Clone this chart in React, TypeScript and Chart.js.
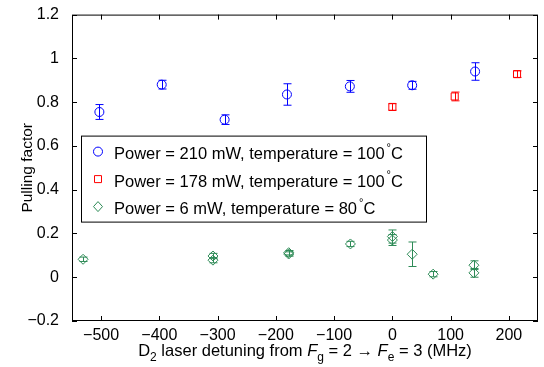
import React, { useEffect, useRef } from 'react';
import { Chart, registerables } from 'chart.js';

Chart.register(...registerables);

const FONT = '"Liberation Sans", Arial, Helvetica, sans-serif';

// Axis ranges and tick values
const xMin = -550;
const xMax = 250;
const xTicks = [-500, -400, -300, -200, -100, 0, 100, 200];
const yMin = -0.2;
const yMax = 1.2;
const yTicks = [-0.2, 0, 0.2, 0.4, 0.6, 0.8, 1, 1.2];

// Power = 210 mW, temperature = 100 °C
const blueX = [-503, -396, -288, -181, -73, 34, 142];
const blueY = [0.755, 0.88, 0.72, 0.835, 0.872, 0.877, 0.94];
const blueErr = [0.034, 0.02, 0.022, 0.049, 0.027, 0.018, 0.04];

// Power = 178 mW, temperature = 100 °C
const redX = [0, 107, 214];
const redY = [0.778, 0.826, 0.928];
const redErr = [0.015, 0.02, 0.015];

// Power = 6 mW, temperature = 80 °C
const greenX = [-531, -308, -308, -178, -178, -72, 0, 0, 34, 70, 140, 140];
const greenY = [0.082, 0.097, 0.078, 0.112, 0.106, 0.152, 0.186, 0.17, 0.105, 0.014, 0.055, 0.02];
const greenErr = [0.01, 0.012, 0.012, 0.01, 0.01, 0.012, 0.03, 0.025, 0.056, 0.012, 0.02, 0.02];

const legendLabels = [
  'Power = 210 mW, temperature = 100',
  'Power = 178 mW, temperature = 100',
  'Power = 6 mW, temperature = 80',
];

const BLUE = '#0000ff';
const RED = '#ff0000';
const GREEN = '#2e8b57';

const toPts = (xs: number[], ys: number[]) => xs.map((x, i) => ({ x, y: ys[i] }));
const fmt = (v: number | string) => String(v).replace('-', '\u2212');

function drawMarker(ctx: CanvasRenderingContext2D, style: string, x: number, y: number, color: string) {
  ctx.save();
  ctx.strokeStyle = color;
  ctx.lineWidth = 1;
  ctx.beginPath();
  if (style === 'circle') {
    ctx.arc(x, y, 4.5, 0, Math.PI * 2);
  } else if (style === 'rect') {
    ctx.rect(x - 3.5, y - 3.5, 7, 7);
  } else {
    ctx.moveTo(x, y - 5);
    ctx.lineTo(x + 4.5, y);
    ctx.lineTo(x, y + 5);
    ctx.lineTo(x - 4.5, y);
    ctx.closePath();
  }
  ctx.stroke();
  ctx.restore();
}

const decorPlugin = {
  id: 'decor',
  afterDatasetsDraw(chart: any) {
    const ctx: CanvasRenderingContext2D = chart.ctx;
    const ys = chart.scales.y;
    chart.data.datasets.forEach((ds: any, i: number) => {
      const meta = chart.getDatasetMeta(i);
      ctx.save();
      ctx.strokeStyle = ds.borderColor;
      ctx.lineWidth = 1;
      meta.data.forEach((pt: any, j: number) => {
        const v = ds.data[j].y;
        const e = ds.errors[j];
        const px = Math.round(pt.x) + 0.5;
        const t = ys.getPixelForValue(v + e);
        const b = ys.getPixelForValue(v - e);
        ctx.beginPath();
        ctx.moveTo(px, t);
        ctx.lineTo(px, b);
        ctx.moveTo(px - 4, t);
        ctx.lineTo(px + 4, t);
        ctx.moveTo(px - 4, b);
        ctx.lineTo(px + 4, b);
        ctx.stroke();
      });
      ctx.restore();
    });
  },
  afterDraw(chart: any) {
    const ctx: CanvasRenderingContext2D = chart.ctx;
    const { left, right, top, bottom } = chart.chartArea;
    const xs = chart.scales.x;
    const ys = chart.scales.y;
    ctx.save();
    ctx.strokeStyle = '#000';
    ctx.lineWidth = 1;
    ctx.strokeRect(left + 0.5, top + 0.5, right - left - 1, bottom - top - 1);
    ctx.beginPath();
    xTicks.forEach((v) => {
      const px = Math.round(xs.getPixelForValue(v)) + 0.5;
      ctx.moveTo(px, bottom);
      ctx.lineTo(px, bottom - 5);
      ctx.moveTo(px, top);
      ctx.lineTo(px, top + 5);
    });
    yTicks.forEach((v) => {
      const py = Math.round(ys.getPixelForValue(v)) + 0.5;
      ctx.moveTo(left, py);
      ctx.lineTo(left + 5, py);
      ctx.moveTo(right, py);
      ctx.lineTo(right - 5, py);
    });
    ctx.stroke();

    // Legend
    const lx = left + 9;
    const ly = top + 121;
    ctx.fillStyle = '#fff';
    ctx.fillRect(lx, ly, 345, 86);
    ctx.strokeRect(lx + 0.5, ly + 0.5, 345, 86);
    const styles = ['circle', 'rect', 'diamond'];
    const colors = [BLUE, RED, GREEN];
    ctx.textBaseline = 'middle';
    ctx.fillStyle = '#000';
    legendLabels.forEach((lab, i) => {
      const cy = ly + 19 + i * 27.5;
      drawMarker(ctx, styles[i], lx + 17, cy - 3, colors[i]);
      ctx.font = `16.5px ${FONT}`;
      ctx.fillText(lab, lx + 33, cy);
      let w = ctx.measureText(lab).width;
      ctx.font = `11px ${FONT}`;
      ctx.fillText('\u00b0', lx + 33 + w + 2, cy - 7);
      w += 2 + ctx.measureText('\u00b0').width;
      ctx.font = `16.5px ${FONT}`;
      ctx.fillText('C', lx + 33 + w, cy);
    });

    // Y title
    ctx.save();
    ctx.translate(28, (top + bottom) / 2);
    ctx.rotate(-Math.PI / 2);
    ctx.textAlign = 'center';
    ctx.textBaseline = 'middle';
    ctx.font = `15.5px ${FONT}`;
    ctx.fillText('Pulling factor', 0, 0);
    ctx.restore();

    // X title with subscripts
    const parts: [string, string][] = [
      ['D', 'n'],
      ['2', 's'],
      [' laser detuning from ', 'n'],
      ['F', 'i'],
      ['g', 's'],
      [' = 2 \u2192 ', 'n'],
      ['F', 'i'],
      ['e', 's'],
      [' = 3 (MHz)', 'n'],
    ];
    const fontFor = (k: string) =>
      k === 's' ? `12px ${FONT}` : k === 'i' ? `italic 16.5px ${FONT}` : `16.5px ${FONT}`;
    ctx.textAlign = 'left';
    ctx.textBaseline = 'alphabetic';
    let total = 0;
    parts.forEach(([t, k]) => {
      ctx.font = fontFor(k);
      total += ctx.measureText(t).width;
    });
    let cx = (left + right) / 2 - total / 2;
    const base = 356;
    parts.forEach(([t, k]) => {
      ctx.font = fontFor(k);
      ctx.fillText(t, cx, k === 's' ? base + 5 : base);
      cx += ctx.measureText(t).width;
    });
    ctx.restore();
  },
};

export default function App() {
  const ref = useRef<HTMLCanvasElement>(null);
  useEffect(() => {
    document.body.style.margin = '0';
    if (!ref.current) return;
    const chart = new Chart(ref.current, {
      type: 'scatter',
      data: {
        datasets: [
          {
            label: legendLabels[0],
            data: toPts(blueX, blueY),
            errors: blueErr,
            borderColor: BLUE,
            backgroundColor: 'rgba(0,0,0,0)',
            pointStyle: 'circle',
            pointRadius: 4.5,
            pointBorderWidth: 1,
          } as any,
          {
            label: legendLabels[1],
            data: toPts(redX, redY),
            errors: redErr,
            borderColor: RED,
            backgroundColor: 'rgba(0,0,0,0)',
            pointStyle: 'rect',
            pointRadius: 5,
            pointBorderWidth: 1,
          } as any,
          {
            label: legendLabels[2],
            data: toPts(greenX, greenY),
            errors: greenErr,
            borderColor: GREEN,
            backgroundColor: 'rgba(0,0,0,0)',
            pointStyle: 'rectRot',
            pointRadius: 5,
            pointBorderWidth: 1,
          } as any,
        ],
      },
      options: {
        responsive: false,
        animation: false,
        layout: { padding: { top: 14, right: 3, left: 0, bottom: 0 } },
        plugins: { legend: { display: false }, tooltip: { enabled: false } },
        scales: {
          x: {
            type: 'linear',
            min: xMin,
            max: xMax,
            afterBuildTicks: (s: any) => {
              s.ticks = xTicks.map((v) => ({ value: v }));
            },
            afterFit: (s: any) => {
              s.height = 46;
            },
            grid: { display: false },
            border: { display: false },
            ticks: {
              padding: -3,
              color: '#000',
              font: { family: FONT, size: 16 },
              maxRotation: 0,
              callback: (v: any) => fmt(v),
            },
          },
          y: {
            type: 'linear',
            min: yMin,
            max: yMax,
            afterBuildTicks: (s: any) => {
              s.ticks = yTicks.map((v) => ({ value: v }));
            },
            afterFit: (s: any) => {
              s.width = 72;
            },
            grid: { display: false },
            border: { display: false },
            ticks: {
              padding: 5,
              color: '#000',
              font: { family: FONT, size: 16 },
              callback: (v: any) => fmt(Math.round(Number(v) * 10) / 10),
            },
          },
        },
      },
      plugins: [decorPlugin],
    });
    return () => chart.destroy();
  }, []);
  return (
    <div style={{ width: 544, height: 367 }}>
      <canvas ref={ref} width={544} height={367} style={{ display: 'block' }} />
    </div>
  );
}
